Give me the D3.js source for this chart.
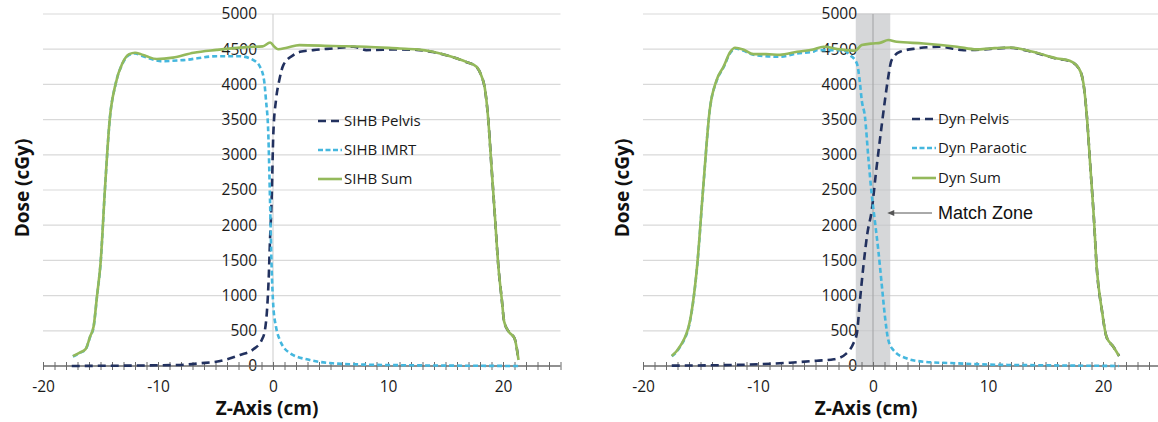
<!DOCTYPE html>
<html><head><meta charset="utf-8">
<script src="https://cdn.jsdelivr.net/npm/d3@7"></script>
<style>
html,body{margin:0;padding:0;background:#fff;}
svg{display:block;}
text{font-family:"Open Sans",sans-serif;}
</style></head>
<body>
<svg id="chart" width="1158" height="422"></svg>
<script>
// ---------- DATA ----------
const xTickLabels = [-20, -10, 0, 10, 20];
const yTickLabels = [0, 500, 1000, 1500, 2000, 2500, 3000, 3500, 4000, 4500, 5000];
const xDomain = [-20, 25];
const yDomain = [0, 5000];

const leftNames = ["SIHB Pelvis", "SIHB IMRT", "SIHB Sum"];
const rightNames = ["Dyn Pelvis", "Dyn Paraotic", "Dyn Sum"];
const matchZone = [-1.5, 1.5];
const matchLabel = "Match Zone";

// Left chart (SIHB)
const sihbPelvis = [[-17.5,0],[-15,3],[-12,6],[-10,10],[-8.1,15],[-6.35,38],[-4.6,71],[-2.87,156],[-1.71,237],[-0.98,369],[-0.7,511],[-0.5,843],[-0.38,1221],[-0.26,1789],[-0.12,2357],[0.03,3304],[0.26,3777],[0.55,4061],[0.9,4274],[1.77,4416],[2.35,4463],[3.5,4487],[5.2,4511],[7.0,4535],[8.1,4487],[11.0,4497],[12.5,4490],[13.9,4460],[15.4,4398],[16.8,4318],[17.7,4248],[18.1,4130],[18.4,3960],[18.7,3540],[19.0,2830],[19.3,2120],[19.6,1410],[19.9,937],[20.1,630],[20.5,487],[21.0,393],[21.35,85]];
const sihbImrt = [[-17.4,135],[-16.8,185],[-16.3,235],[-15.9,415],[-15.6,555],[-15.3,995],[-15.0,1445],[-14.6,2545],[-14.2,3495],[-13.7,3995],[-13.1,4290],[-12.5,4420],[-12.0,4440],[-11.3,4400],[-10.1,4340],[-9.8,4330],[-7.8,4345],[-4.9,4400],[-2.9,4400],[-1.7,4345],[-1.13,4250],[-0.78,4061],[-0.61,3777],[-0.41,3304],[-0.26,2357],[-0.12,1410],[0.03,843],[0.26,558],[0.6,369],[1.5,180],[3.2,85],[5.2,38],[8,20],[12,10],[16,5],[21.4,0]];
const sihbSum = [[-17.4,140],[-16.8,190],[-16.3,240],[-15.9,420],[-15.6,560],[-15.3,1000],[-15.0,1450],[-14.6,2550],[-14.2,3500],[-13.7,4000],[-13.1,4300],[-12.5,4430],[-12.0,4450],[-11.5,4430],[-11.0,4400],[-10.1,4360],[-8.7,4380],[-6.9,4450],[-4.9,4490],[-2.3,4530],[-0.9,4540],[-0.25,4595],[0.15,4530],[0.45,4500],[1.2,4520],[2.3,4558],[5.2,4545],[8.1,4535],[11.0,4510],[12.5,4497],[13.9,4463],[15.4,4400],[16.8,4320],[17.7,4250],[18.1,4130],[18.4,3966],[18.7,3540],[19.0,2830],[19.3,2120],[19.6,1410],[19.9,937],[20.1,630],[20.5,487],[21.0,393],[21.35,85]];

// Right chart (Dyn)
const dynPelvis = [[-17.5,5],[-14,10],[-12,15],[-10,25],[-7.2,47],[-4.9,75],[-3.4,95],[-2.3,180],[-1.7,322],[-1.4,464],[-1.13,937],[-0.84,1410],[-0.49,1884],[-0.12,2200],[0.26,2750],[0.67,3304],[1.04,3777],[1.33,4108],[1.62,4345],[2.35,4463],[3.8,4511],[5.8,4535],[7.9,4487],[9.6,4497],[10.2,4505],[11.9,4520],[13.9,4460],[16.0,4365],[17.1,4332],[17.9,4225],[18.3,4010],[18.6,3540],[18.9,2830],[19.2,2120],[19.45,1410],[19.9,795],[20.3,416],[20.9,274],[21.4,142]];
const dynParaotic = [[-17.5,137],[-16.8,268],[-15.9,645],[-15.3,1400],[-14.76,2536],[-14.2,3625],[-13.6,4050],[-13.0,4240],[-12.4,4450],[-12.0,4510],[-11.3,4480],[-10.4,4420],[-8.1,4393],[-6.6,4440],[-5.2,4463],[-4.9,4487],[-2.6,4487],[-2.0,4416],[-1.4,4298],[-1.13,4014],[-0.98,3777],[-0.7,3540],[-0.4,2950],[-0.12,2450],[0.17,2050],[0.46,1647],[0.75,1174],[1.04,700],[1.33,369],[1.77,227],[2.9,109],[4.4,61],[7.3,38],[10,20],[15,10],[21.4,0]];
const dynSum = [[-17.5,142],[-16.8,274],[-15.9,653],[-15.3,1410],[-14.76,2546],[-14.2,3635],[-13.6,4061],[-13.0,4250],[-12.4,4463],[-12.0,4520],[-11.3,4497],[-10.4,4430],[-9.3,4430],[-8.1,4420],[-6.6,4463],[-5.2,4497],[-4.3,4535],[-2.87,4497],[-1.57,4478],[-0.98,4558],[0,4582],[0.6,4590],[1.33,4630],[2.06,4605],[4.4,4582],[7.3,4535],[9.0,4497],[10.2,4511],[11.9,4525],[13.9,4463],[16.0,4369],[17.1,4336],[17.9,4227],[18.3,4014],[18.6,3540],[18.9,2830],[19.2,2120],[19.45,1410],[19.9,795],[20.3,416],[20.9,274],[21.4,142]];

// ---------- STYLE ----------
const colPelvis = "#22315f";
const colCyan = "#45b7de";
const colGreen = "#94b95b";

const svg = d3.select("#chart");

function drawChart(opt) {
  const x = d3.scaleLinear().domain(xDomain).range(opt.xRange);
  const y = d3.scaleLinear().domain(yDomain).range([366, 14]);
  const g = svg.append("g");

  // gridlines
  g.append("g").selectAll("line").data(yTickLabels.filter(d => d > 0)).join("line")
    .attr("x1", x(xDomain[0])).attr("x2", x(xDomain[1]))
    .attr("y1", d => y(d)).attr("y2", d => y(d))
    .attr("stroke", "#d9d9d9").attr("stroke-width", 1.2);

  // match zone
  if (opt.zone) {
    g.append("rect")
      .attr("x", x(opt.zone[0])).attr("width", x(opt.zone[1]) - x(opt.zone[0]))
      .attr("y", y(5000)).attr("height", y(0) - y(5000))
      .attr("fill", "#d6d7d9");
    g.append("g").selectAll("line").data(yTickLabels.filter(d => d > 0)).join("line")
      .attr("x1", x(opt.zone[0])).attr("x2", x(opt.zone[1]))
      .attr("y1", d => y(d)).attr("y2", d => y(d))
      .attr("stroke", "#c8c9cb").attr("stroke-width", 1);
  }

  // vertical axis line at x = 0
  g.append("line").attr("x1", x(0)).attr("x2", x(0)).attr("y1", y(5000)).attr("y2", y(0))
    .attr("stroke", opt.zone ? "#a9aaac" : "#d4d4d4").attr("stroke-width", 1.2);

  // y tick labels
  const yAxis = d3.axisLeft(y).tickValues(yTickLabels).tickSize(0).tickPadding(16).tickFormat(d => String(d));
  const ya = g.append("g").attr("transform", `translate(${x(0)},0)`).call(yAxis);
  ya.select(".domain").remove();
  ya.selectAll("text").attr("font-size", 15.5).attr("fill", "#1a1a1a").style("font-family", "'Open Sans',sans-serif");

  // x axis: line + crossing minor ticks
  g.append("line").attr("x1", x(xDomain[0])).attr("x2", x(xDomain[1])).attr("y1", y(0)).attr("y2", y(0))
    .attr("stroke", "#6b6b6b").attr("stroke-width", 1.3);
  const minor = d3.axisBottom(x).tickValues(d3.range(xDomain[0], xDomain[1] + 1, 1)).tickSize(8).tickFormat("");
  const mi = g.append("g").attr("transform", `translate(0,${y(0) - 4})`).call(minor);
  mi.select(".domain").remove();
  mi.selectAll("line").attr("stroke", "#6b6b6b").attr("stroke-width", 1);

  const xAxis = d3.axisBottom(x).tickValues(xTickLabels).tickSize(0).tickPadding(15).tickFormat(d => String(d));
  const xa = g.append("g").attr("transform", `translate(0,${y(0)})`).call(xAxis);
  xa.select(".domain").remove();
  xa.selectAll("text").attr("font-size", 15.5).attr("fill", "#1a1a1a").style("font-family", "'Open Sans',sans-serif");

  // axis titles
  g.append("text").attr("x", opt.xTitleX).attr("y", 415).attr("text-anchor", "middle")
    .attr("font-size", 19).attr("font-weight", "bold").attr("fill", "#111").text("Z-Axis (cm)");
  g.append("text").attr("transform", `translate(${opt.yTitleX},188) rotate(-90)`).attr("text-anchor", "middle")
    .attr("font-size", 19).attr("font-weight", "bold").attr("fill", "#111").text("Dose (cGy)");

  // series
  const line = d3.line().x(d => x(d[0])).y(d => y(d[1])).curve(d3.curveMonotoneX);
  const series = [
    {data: opt.pelvis, color: colPelvis, dash: "8,5", w: 2.6},
    {data: opt.cyan, color: colCyan, dash: "5,3", w: 2.6},
    {data: opt.sum, color: colGreen, dash: null, w: 2.6}
  ];
  series.forEach(s => {
    g.append("path").datum(s.data).attr("d", line).attr("fill", "none")
      .attr("stroke", s.color).attr("stroke-width", s.w)
      .attr("stroke-dasharray", s.dash).attr("stroke-linejoin", "round");
  });

  // legend
  const lg = g.append("g");
  opt.names.forEach((nm, i) => {
    const yy = opt.legY[i];
    const s = series[i];
    lg.append("line").attr("x1", opt.legX).attr("x2", opt.legX + 24).attr("y1", yy).attr("y2", yy)
      .attr("stroke", s.color).attr("stroke-width", 2.6).attr("stroke-dasharray", s.dash ? (i === 0 ? "8,5" : "5,2.5") : null);
    lg.append("text").attr("x", opt.legX + 26).attr("y", yy).attr("dy", "0.35em")
      .attr("font-size", 15).attr("fill", "#1a1a1a").text(nm);
  });

  if (opt.zone) {
    const ay = 213;
    const tipX = x(opt.zone[1]) - 3;
    g.append("line").attr("x1", 932).attr("x2", tipX + 5).attr("y1", ay).attr("y2", ay)
      .attr("stroke", "#555").attr("stroke-width", 1);
    g.append("path").attr("d", `M${tipX},${ay} l7,-3 l0,6 z`).attr("fill", "#555");
    g.append("text").attr("x", 938).attr("y", ay).attr("dy", "0.36em")
      .attr("font-size", 18).style("font-family", "'Liberation Sans',Arial,sans-serif")
      .attr("fill", "#111").text(matchLabel);
  }
}

drawChart({
  xRange: [43, 560.5], pelvis: sihbPelvis, cyan: sihbImrt, sum: sihbSum,
  names: leftNames, legX: 318, legY: [121, 150, 179], xTitleX: 267, yTitleX: 29, zone: null
});
drawChart({
  xRange: [643, 1160.5], pelvis: dynPelvis, cyan: dynParaotic, sum: dynSum,
  names: rightNames, legX: 912, legY: [119, 148, 178], xTitleX: 866, yTitleX: 629, zone: matchZone
});
</script>
</body></html>
